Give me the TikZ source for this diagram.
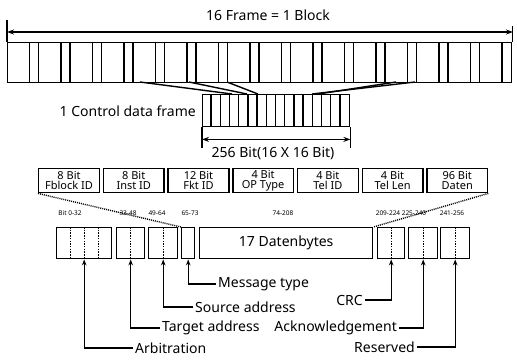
\documentclass[tikz,border=0pt]{standalone}
\usepackage{fontspec}
\setmainfont{Noto Sans}
\usetikzlibrary{arrows.meta,calc}
\begin{document}
\begin{tikzpicture}[x=1pt,y=-1pt, line width=1.4pt,
 box/.style={draw, line width=1.4pt, inner sep=0pt, anchor=north west},
 fld/.style={box, minimum width=60.7pt, minimum height=24pt, align=center, font=\fontsize{11}{10.5}\selectfont},
 lbl/.style={font=\fontsize{14}{16}\selectfont, inner sep=1.5pt},
 bitlbl/.style={font=\fontsize{6.5}{7}\selectfont, inner sep=0pt},
 arr/.style={-{Stealth[length=6pt,width=4.5pt]}, line width=1.4pt},
 dbl/.style={{Stealth[length=7pt,width=5pt]}-{Stealth[length=7pt,width=5pt]}, line width=1.4pt},
 dl/.style={line width=0.9pt, dash pattern=on 1.5pt off 1.2pt},
 dotl/.style={line width=1.4pt, dash pattern=on 1pt off 1pt}]
\useasboundingbox (0,0) rectangle (517,360);

% top label and arrow
\node[lbl] (toplbl) at (268,15) {16 Frame = 1 Block};
\coordinate (tl) at (7,32);
\coordinate (tr) at (513,32);
\draw[dbl] (tl) -- (tr);

% frame row
\node[box, minimum width=504pt, minimum height=40pt] (row) at (7,42) {};
\draw (row.north west) -- ++(0,-22);
\draw (row.north east) -- ++(0,-16);
\foreach \i in {0,...,15} {
  \draw (7+31.5*\i+22.5,42) -- ++(0,40);
}
\foreach \i in {1,...,15} {
  \draw (7+31.5*\i,42) -- ++(0,40);
}

% control data frame
\node[box, minimum width=147pt, minimum height=32pt] (cf) at (202,94) {};
\foreach \i in {1,...,15} {
  \draw (202+9.1875*\i,94) -- ++(0,32);
}
\draw (cf.south west) -- ++(0,21);
\draw (cf.south east) -- ++(0,21);
\coordinate (al) at ($(cf.south west)+(0,12)$);
\coordinate (ar) at ($(cf.south east)+(0,12)$);
\draw[dbl] (al) -- (ar);
\node[lbl, anchor=east] (cflbl) at (198,111) {1 Control data frame};
\node[lbl] (bitlbl) at (273,153) {256 Bit(16 X 16 Bit)};

% fan lines
\coordinate (fa1) at (140,82);
\coordinate (fa2) at (189,82);
\coordinate (fa3) at (227,82);
\coordinate (fb1) at (415,82);
\coordinate (fb2) at (396,82);
\coordinate (ca1) at (232,94);
\coordinate (ca2) at (247,94);
\coordinate (ca3) at (258,94);
\coordinate (cb1) at (312,94);
\coordinate (cb2) at (318,94);
\draw (fa1) -- (ca1);
\draw (fa2) -- (ca2);
\draw (fa3) -- (ca3);
\draw (fb1) -- (cb1);
\draw (fb2) -- (cb2);

% field boxes
\node[fld] (f1) at (38,168) {8 Bit\\Fblock ID};
\node[fld] (f2) at (102.7,168) {8 Bit\\Inst ID};
\node[fld] (f3) at (167.4,168) {12 Bit\\Fkt ID};
\node[fld] (f4) at (232.1,168) {4 Bit\\OP Type};
\node[fld] (f5) at (296.8,168) {4 Bit\\Tel ID};
\node[fld] (f6) at (361.5,168) {4 Bit\\Tel Len};
\node[fld] (f7) at (426.2,168) {96 Bit\\Daten};

% bottom boxes
\node[box, minimum width=55pt, minimum height=31pt] (arb) at (56,227) {};
\node[box, minimum width=28pt, minimum height=31pt] (tgt) at (116,227) {};
\node[box, minimum width=29pt, minimum height=31pt] (src) at (148,227) {};
\node[box, minimum width=13pt, minimum height=31pt] (msg) at (181,227) {};
\node[box, minimum width=173pt, minimum height=31pt, font=\fontsize{14}{16}\selectfont] (dat) at (199,227) {17 Datenbytes};
\node[box, minimum width=27pt, minimum height=31pt] (crc) at (377,227) {};
\node[box, minimum width=29pt, minimum height=31pt] (ack) at (408,227) {};
\node[box, minimum width=29pt, minimum height=31pt] (res) at (440,227) {};

\foreach \k in {0.25,0.5,0.75} {
  \draw[dl] ($(arb.north west)!\k!(arb.north east)$) -- ($(arb.south west)!\k!(arb.south east)$);
}
\draw[dl] (tgt.north) -- (tgt.south);
\draw[dl] (src.north) -- (src.south);
\draw[dl] (crc.north) -- (crc.south);
\draw[dl] (ack.north) -- (ack.south);
\draw[dl] (res.north) -- (res.south);

% bit labels
\node[bitlbl] (b1) at (70,213) {Bit 0-32};
\node[bitlbl] (b2) at (128,213) {33-48};
\node[bitlbl] (b3) at (157,213) {49-64};
\node[bitlbl] (b4) at (190,213) {65-73};
\node[bitlbl] (b5) at (283,213) {74-208};
\node[bitlbl] (b6) at (388,213) {209-224};
\node[bitlbl] (b7) at (414,213) {225-240};
\node[bitlbl] (b8) at (452,213) {241-256};

% dotted mapping lines
\draw[dotl] (f1.south west) -- (msg.north west);
\draw[dotl] (f7.south east) -- (dat.north east);

% labels with arrows
\node[lbl, anchor=west] (arbl) at (133,348) {Arbitration};
\node[lbl, anchor=west] (tgtl) at (160,328) {Target address};
\node[lbl, anchor=west] (srcl) at (193,307) {Source address};
\node[lbl, anchor=west] (msgl) at (216,284) {Message type};
\node[lbl, anchor=east] (crcl) at (365,300) {CRC};
\node[lbl, anchor=east] (ackl) at (399,328) {Acknowledgement};
\node[lbl, anchor=east] (resl) at (417,347) {Reserved};

\draw[arr] (arbl.west) -| (arb.south);
\draw[arr] (tgtl.west) -| (tgt.south);
\draw[arr] (srcl.west) -| (src.south);
\draw[arr] (msgl.west) -| (msg.south);
\draw[arr] (crcl.east) -| (crc.south);
\draw[arr] (ackl.east) -| (ack.south);
\draw[arr] (resl.east) -| (res.south);
\end{tikzpicture}
\end{document}
